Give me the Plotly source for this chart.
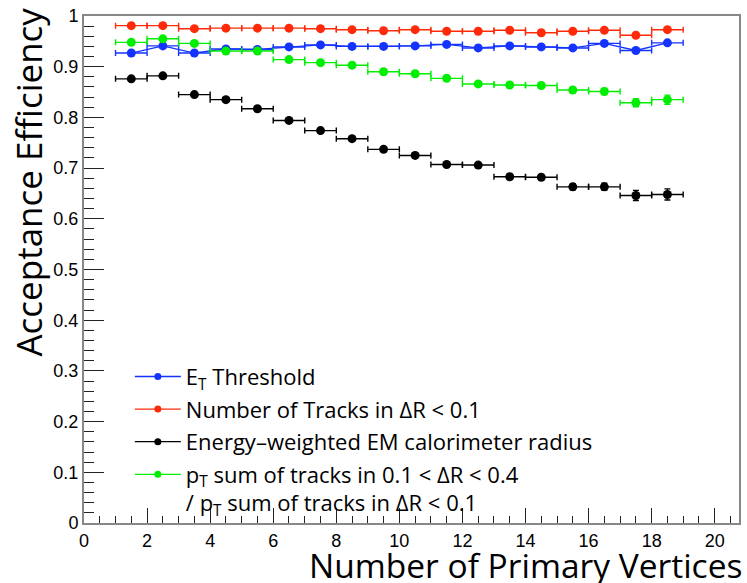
import plotly.graph_objects as go

# Bin centres (number of primary vertices) and half-widths
nvtx = [1.5, 2.5, 3.5, 4.5, 5.5, 6.5, 7.5, 8.5, 9.5, 10.5,
        11.5, 12.5, 13.5, 14.5, 15.5, 16.5, 17.5, 18.5]
half_width = [0.5] * len(nvtx)

eff_et = [0.927, 0.941, 0.927, 0.935, 0.934, 0.939, 0.943, 0.940, 0.940, 0.941,
          0.944, 0.937, 0.941, 0.939, 0.937, 0.946, 0.932, 0.947]
err_et = [0.002, 0.002, 0.002, 0.002, 0.002, 0.002, 0.002, 0.002, 0.002, 0.002,
          0.002, 0.002, 0.003, 0.003, 0.003, 0.003, 0.004, 0.004]

eff_ntrk = [0.981, 0.981, 0.975, 0.976, 0.976, 0.976, 0.975, 0.973, 0.971, 0.973,
            0.970, 0.970, 0.972, 0.967, 0.970, 0.972, 0.962, 0.973]
err_ntrk = [0.001, 0.001, 0.001, 0.001, 0.001, 0.001, 0.001, 0.001, 0.002, 0.002,
            0.002, 0.002, 0.002, 0.002, 0.002, 0.003, 0.003, 0.003]

eff_emrad = [0.876, 0.882, 0.845, 0.835, 0.817, 0.794, 0.774, 0.758, 0.737, 0.725,
             0.707, 0.706, 0.683, 0.682, 0.663, 0.663, 0.646, 0.648]
err_emrad = [0.003, 0.003, 0.003, 0.003, 0.003, 0.003, 0.003, 0.003, 0.003, 0.004,
             0.004, 0.004, 0.005, 0.005, 0.006, 0.007, 0.010, 0.011]

eff_iso = [0.948, 0.955, 0.946, 0.931, 0.931, 0.914, 0.908, 0.903, 0.890, 0.886,
           0.877, 0.866, 0.864, 0.863, 0.854, 0.851, 0.829, 0.835]
err_iso = [0.002, 0.002, 0.002, 0.002, 0.002, 0.002, 0.003, 0.003, 0.003, 0.003,
           0.003, 0.004, 0.004, 0.004, 0.005, 0.006, 0.008, 0.009]

labels = [
    "E<sub>T</sub> Threshold",
    "Number of Tracks in \u0394R < 0.1",
    "Energy\u2013weighted EM calorimeter radius",
    "p<sub>T</sub> sum of tracks in 0.1 < \u0394R < 0.4<br>/ p<sub>T</sub> sum of tracks in \u0394R < 0.1",
]
colors = ["#1433ff", "#ff2a0a", "#000000", "#00ee00"]

series = [eff_et, eff_ntrk, eff_emrad, eff_iso]
errors = [err_et, err_ntrk, err_emrad, err_iso]
connect = [True, False, False, False]

fig = go.Figure()

for ys, es, col, con in zip(series, errors, colors, connect):
    fig.add_trace(go.Scatter(
        x=nvtx, y=ys,
        mode="lines+markers" if con else "markers",
        line=dict(color=col, width=1.3),
        marker=dict(color=col, size=9, symbol="circle"),
        error_x=dict(type="data", array=half_width, color=col, thickness=1.4, width=3),
        error_y=dict(type="data", array=es, color=col, thickness=1.4, width=3),
        showlegend=False,
        hoverinfo="x+y",
    ))

# legend entries (line + marker, as in the original)
for i, (lab, col) in enumerate(zip(labels, colors)):
    fig.add_trace(go.Scatter(
        x=[None], y=[None], mode="lines+markers", name=lab,
        legendgroup="g%d" % i,
        line=dict(color=col, width=1.3),
        marker=dict(color=col, size=7),
    ))

axis_font = dict(family="Liberation Sans, Arial, sans-serif", size=18, color="#000")
title_font = "Open Sans, DejaVu Sans, sans-serif"

fig.update_layout(
    width=747, height=583,
    margin=dict(l=84, r=6, t=13, b=60),
    paper_bgcolor="white", plot_bgcolor="white",
    xaxis=dict(
        range=[0, 20.77], showgrid=False, zeroline=False,
        tickmode="linear", tick0=0, dtick=2,
        ticks="inside", ticklen=15, tickwidth=1, tickcolor="#222",
        minor=dict(ticks="inside", dtick=0.5, ticklen=7, tickcolor="#222", showgrid=False),
        showline=True, linecolor="#888", linewidth=2, mirror=True,
        tickfont=axis_font,
    ),
    yaxis=dict(
        range=[0, 1], showgrid=False, zeroline=False,
        tickmode="linear", tick0=0, dtick=0.1,
        ticks="inside", ticklen=20, tickwidth=1, tickcolor="#222",
        minor=dict(ticks="inside", dtick=0.02, ticklen=10, tickcolor="#222", showgrid=False),
        showline=True, linecolor="#888", linewidth=2, mirror=True,
        tickfont=axis_font,
    ),
    legend=dict(
        x=0.07, y=0.33, xanchor="left", yanchor="top",
        bgcolor="rgba(0,0,0,0)", borderwidth=0,
        font=dict(family=title_font, size=22, color="#000"),
        valign="top", tracegroupgap=1, itemwidth=46,
    ),
    annotations=[
        dict(text="Number of Primary Vertices", xref="paper", yref="paper",
             x=1.008, y=-0.082, xanchor="right", yanchor="middle", showarrow=False,
             font=dict(family=title_font, size=33.5, color="#000")),
        dict(text="Acceptance Efficiency", xref="paper", yref="paper",
             x=-0.0852, y=1.02, xanchor="center", yanchor="top", textangle=-90, showarrow=False,
             font=dict(family=title_font, size=35, color="#000")),
    ],
)

fig.write_html("out.html")
